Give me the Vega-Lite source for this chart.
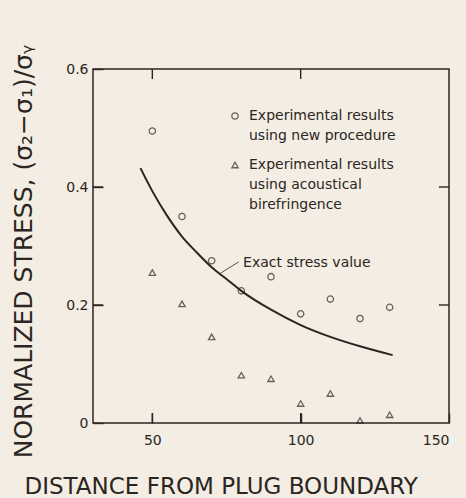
{
  "$schema": "https://vega.github.io/schema/vega-lite/v6.json",
  "width": 356,
  "height": 354,
  "autosize": {"type": "none"},
  "padding": {"left": 93, "top": 69, "right": 17, "bottom": 75},
  "background": "#f3ede3",
  "config": {
    "view": {"stroke": "#2b2622", "strokeWidth": 1.5},
    "font": "DejaVu Sans",
    "style": {"guide-label": {"lineHeight": 20}},
    "axis": {"domain": false, "grid": false, "labelColor": "#2b2622", "labelFont": "DejaVu Sans", "labelFontSize": 14, "titleColor": "#2b2622", "titleFont": "DejaVu Sans", "titleFontWeight": "normal", "titleFontSize": 23}
  },
  "resolve": {"axis": {"x": "independent", "y": "independent"}},
  "datasets": {
    "points": [
      {"distance": 50, "stress": 0.495, "series": "Experimental results using new procedure"},
      {"distance": 60, "stress": 0.35, "series": "Experimental results using new procedure"},
      {"distance": 70, "stress": 0.275, "series": "Experimental results using new procedure"},
      {"distance": 80, "stress": 0.224, "series": "Experimental results using new procedure"},
      {"distance": 90, "stress": 0.248, "series": "Experimental results using new procedure"},
      {"distance": 100, "stress": 0.185, "series": "Experimental results using new procedure"},
      {"distance": 110, "stress": 0.21, "series": "Experimental results using new procedure"},
      {"distance": 120, "stress": 0.177, "series": "Experimental results using new procedure"},
      {"distance": 130, "stress": 0.196, "series": "Experimental results using new procedure"},
      {"distance": 50, "stress": 0.255, "series": "Experimental results using acoustical birefringence"},
      {"distance": 60, "stress": 0.202, "series": "Experimental results using acoustical birefringence"},
      {"distance": 70, "stress": 0.146, "series": "Experimental results using acoustical birefringence"},
      {"distance": 80, "stress": 0.081, "series": "Experimental results using acoustical birefringence"},
      {"distance": 90, "stress": 0.075, "series": "Experimental results using acoustical birefringence"},
      {"distance": 100, "stress": 0.033, "series": "Experimental results using acoustical birefringence"},
      {"distance": 110, "stress": 0.05, "series": "Experimental results using acoustical birefringence"},
      {"distance": 120, "stress": 0.004, "series": "Experimental results using acoustical birefringence"},
      {"distance": 130, "stress": 0.014, "series": "Experimental results using acoustical birefringence"}
    ],
    "curve": [
      {"distance": 46, "stress": 0.432},
      {"distance": 50, "stress": 0.393},
      {"distance": 55, "stress": 0.351},
      {"distance": 60, "stress": 0.316},
      {"distance": 65, "stress": 0.289},
      {"distance": 70, "stress": 0.264},
      {"distance": 75, "stress": 0.244},
      {"distance": 80, "stress": 0.224},
      {"distance": 90, "stress": 0.192},
      {"distance": 100, "stress": 0.166},
      {"distance": 110, "stress": 0.146},
      {"distance": 120, "stress": 0.13},
      {"distance": 131, "stress": 0.115}
    ],
    "xticks": [{"tick": 50}, {"tick": 100}],
    "yticks": [{"tick": 0.2}, {"tick": 0.4}]
  },
  "layer": [
    {
      "data": {"name": "curve"},
      "mark": {"type": "line", "interpolate": "monotone", "color": "#2b2622", "strokeWidth": 2},
      "encoding": {
        "x": {"field": "distance", "type": "quantitative", "scale": {"domain": [30, 150], "nice": false, "zero": false},
          "axis": {"orient": "bottom", "values": [50, 100, 150], "ticks": true, "tickSize": 10, "tickWidth": 1.4, "tickColor": "#2b2622", "offset": -10, "zindex": 1, "labelPadding": 10, "labelBaseline": "top",
            "title": "DISTANCE FROM PLUG BOUNDARY", "titleAlign": "left", "titleAnchor": "start", "titleBaseline": "alphabetic", "titleX": -69, "titleY": 80}},
        "y": {"field": "stress", "type": "quantitative", "scale": {"domain": [0, 0.6], "nice": false},
          "axis": {"orient": "left", "values": [0, 0.2, 0.4, 0.6], "ticks": true, "tickSize": 10, "tickWidth": 1.4, "tickColor": "#2b2622", "offset": -10, "zindex": 1, "labelPadding": 5, "labelExpr": "datum.value == 0 ? '0' : format(datum.value, '.1f')",
            "title": "NORMALIZED STRESS, (σ₂−σ₁)/σᵧ", "titleFontSize": 25, "titleAngle": -90, "titleAlign": "center", "titleBaseline": "middle", "titleX": -80, "titleY": 182}}
      }
    },
    {
      "data": {"name": "xticks"},
      "layer": [
        {
          "mark": {"type": "rule", "color": "#2b2622", "strokeWidth": 1.4},
          "encoding": {
            "x": {"field": "tick", "type": "quantitative", "axis": null},
            "y": {"datum": 0, "type": "quantitative", "axis": null},
            "y2": {"datum": 0.017}
          }
        },
        {
          "mark": {"type": "rule", "color": "#2b2622", "strokeWidth": 1.4},
          "encoding": {
            "x": {"field": "tick", "type": "quantitative", "axis": null},
            "y": {"datum": 0.6, "type": "quantitative", "axis": null},
            "y2": {"datum": 0.583}
          }
        }
      ]
    },
    {
      "data": {"name": "yticks"},
      "layer": [
        {
          "mark": {"type": "rule", "color": "#2b2622", "strokeWidth": 1.4},
          "encoding": {
            "y": {"field": "tick", "type": "quantitative", "axis": null},
            "x": {"datum": 30, "type": "quantitative", "axis": null},
            "x2": {"datum": 33.4}
          }
        },
        {
          "mark": {"type": "rule", "color": "#2b2622", "strokeWidth": 1.4},
          "encoding": {
            "y": {"field": "tick", "type": "quantitative", "axis": null},
            "x": {"datum": 150, "type": "quantitative", "axis": null},
            "x2": {"datum": 146.6}
          }
        }
      ]
    },
    {
      "data": {"name": "points"},
      "mark": {"type": "point", "filled": false, "strokeWidth": 1.3, "color": "#2b2622", "size": 40},
      "encoding": {
        "x": {"field": "distance", "type": "quantitative", "axis": null},
        "y": {"field": "stress", "type": "quantitative", "axis": null},
        "shape": {"field": "series", "type": "nominal",
          "scale": {"domain": ["Experimental results using new procedure", "Experimental results using acoustical birefringence"], "range": ["circle", "triangle-up"]},
          "legend": {"orient": "none", "legendX": 135, "legendY": 40, "title": null, "padding": 0,
            "labelExpr": "datum.label == 'Experimental results using new procedure' ? ['Experimental results', 'using new procedure'] : ['Experimental results', 'using acoustical', 'birefringence']",
            "labelFont": "DejaVu Sans", "labelFontSize": 14, "labelColor": "#2b2622", "labelLimit": 400, "labelBaseline": "middle",
            "symbolStrokeColor": "#2b2622", "symbolFillColor": "transparent", "symbolStrokeWidth": 1.3, "symbolSize": 40, "rowPadding": 15, "labelOffset": 7,
            "encode": {"labels": {"update": {"lineHeight": {"value": 20}}}}}}
      }
    },
    {
      "data": {"values": [{}]},
      "mark": {"type": "rule", "color": "#555049", "strokeWidth": 1},
      "encoding": {
        "x": {"datum": 73.0, "type": "quantitative", "axis": null},
        "y": {"datum": 0.254, "type": "quantitative", "axis": null},
        "x2": {"datum": 79.1},
        "y2": {"datum": 0.273}
      }
    },
    {
      "data": {"values": [{}]},
      "mark": {"type": "text", "align": "left", "baseline": "middle", "font": "DejaVu Sans", "fontSize": 14, "color": "#2b2622"},
      "encoding": {
        "x": {"datum": 80.6, "type": "quantitative", "axis": null},
        "y": {"datum": 0.271, "type": "quantitative", "axis": null},
        "text": {"value": "Exact stress value"}
      }
    }
  ]
}
